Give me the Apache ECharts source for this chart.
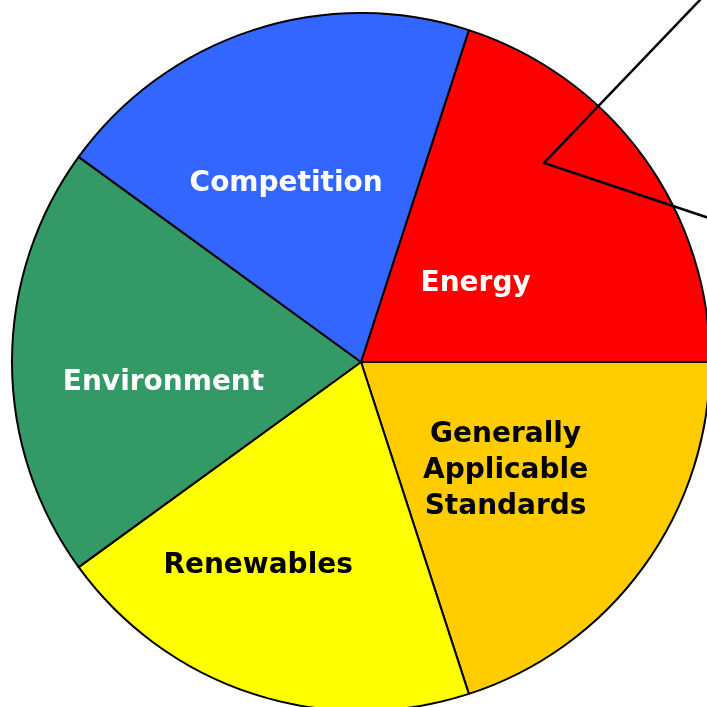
<!DOCTYPE html>
<html>
<head>
<meta charset="utf-8">
<script src="https://cdn.jsdelivr.net/npm/echarts@6/dist/echarts.min.js"></script>
<style>html,body{margin:0;padding:0;background:#fff;}#main{width:707px;height:707px;}</style>
</head>
<body>
<div id="main"></div>
<script>
var categories = ['Energy', 'Generally\nApplicable\nStandards', 'Renewables', 'Environment', 'Competition'];
var values = [20, 20, 20, 20, 20];
var colors = ['#FF0000', '#FFCC00', '#FFFF00', '#339966', '#3366FF'];
var labelColors = ['#FFFFFF', '#000000', '#000000', '#FFFFFF', '#FFFFFF'];
var labelOffsets = [[-29, 26], [1, 4], [-48, 35], [-20, 21], [-20, -9]];

var chart = echarts.init(document.getElementById('main'), null, {renderer: 'canvas'});
var cx = 361, cy = 362, R = 349;
var data = categories.map(function (c, i) {
  return {
    name: c,
    value: values[i],
    itemStyle: {color: colors[i]},
    label: {color: labelColors[i]}
  };
});
chart.setOption({
  animation: false,
  backgroundColor: '#ffffff',
  series: [{
    type: 'pie',
    center: [cx, cy],
    radius: [0, R],
    startAngle: 72,
    clockwise: true,
    silent: true,
    data: data,
    itemStyle: {borderColor: '#000000', borderWidth: 2},
    label: {
      show: true,
      position: 'inside',
      formatter: '{b}',
      fontFamily: 'DejaVu Sans',
      fontWeight: 'bold',
      fontSize: 28,
      lineHeight: 36,
      align: 'center'
    },
    labelLine: {show: false},
    labelLayout: function (p) {
      var o = labelOffsets[p.dataIndex];
      return {dx: o[0], dy: o[1]};
    },
    emphasis: {disabled: true}
  }],
  graphic: [{
    type: 'polyline',
    shape: {points: [[cx + 359, cy - 383], [cx + 183, cy - 199], [cx + 366, cy - 138]]},
    style: {stroke: '#000000', lineWidth: 2.5, fill: null},
    z: 100
  }]
});
</script>
</body>
</html>
